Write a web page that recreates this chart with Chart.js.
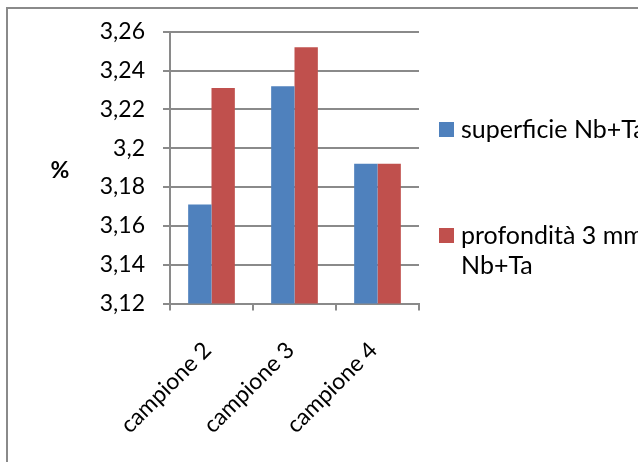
<!DOCTYPE html>
<html>
<head>
<meta charset="utf-8">
<script src="https://cdn.jsdelivr.net/npm/chart.js@4/dist/chart.umd.min.js"></script>
<style>
  html, body { margin: 0; padding: 0; background: #fff; overflow: hidden; }
  #wrap { width: 638px; height: 462px; position: relative; }
</style>
</head>
<body>
<div id="wrap"><canvas id="c" width="638" height="462"></canvas></div>
<script>
// Nb+Ta content per sample: surface vs. 3 mm depth
const categories = ['campione 2', 'campione 3', 'campione 4'];
const superficie = [3.171, 3.232, 3.192];
const profondita = [3.231, 3.252, 3.192];
const seriesNames = [['superficie Nb+Ta'], ['profondità 3 mm', 'Nb+Ta']];
const seriesColors = ['#4f81bd', '#c0504d'];
const yTickValues = [3.12, 3.14, 3.16, 3.18, 3.2, 3.22, 3.24, 3.26];
const yTickLabels = ['3,12', '3,14', '3,16', '3,18', '3,2', '3,22', '3,24', '3,26'];
const axisTitle = '%';

const FONT_FAMILY = 'Lato, "Open Sans", sans-serif';
const FONT_SIZE = 23;
const LEGEND_FONT_SIZE = 25;
const gridColor = '#8a8a8a';

// white background plus the outer frame of the chart object
const framePlugin = {
  id: 'frame',
  beforeDraw(chart) {
    const ctx = chart.ctx;
    ctx.save();
    ctx.fillStyle = '#fff';
    ctx.fillRect(0, 0, chart.width, chart.height);
    ctx.strokeStyle = '#8a8a8a';
    ctx.lineWidth = 2;
    ctx.strokeRect(7, 8, chart.width + 40, chart.height + 40);
    ctx.restore();
  }
};

// horizontal "%" axis title left of the value labels
const axisTitlePlugin = {
  id: 'axisTitle',
  afterDraw(chart) {
    const ctx = chart.ctx;
    const area = chart.chartArea;
    ctx.save();
    ctx.font = 'bold ' + FONT_SIZE + 'px ' + FONT_FAMILY;
    ctx.fillStyle = '#000';
    ctx.textAlign = 'center';
    ctx.textBaseline = 'middle';
    ctx.fillText(axisTitle, 60, (area.top + area.bottom) / 2 + 3);
    ctx.restore();
  }
};

// legend to the right of the plot, one block per series
const sideLegendPlugin = {
  id: 'sideLegend',
  afterDraw(chart) {
    const ctx = chart.ctx;
    const area = chart.chartArea;
    const box = 15;
    const boxX = area.right + 20;
    const textX = boxX + box + 7;
    const lineH = 30;
    const tops = [122, 228];
    ctx.save();
    ctx.font = LEGEND_FONT_SIZE + 'px ' + FONT_FAMILY;
    ctx.textAlign = 'left';
    ctx.textBaseline = 'middle';
    chart.data.datasets.forEach((ds, i) => {
      ctx.fillStyle = ds.backgroundColor;
      ctx.fillRect(boxX, tops[i], box, box);
      ctx.fillStyle = '#000';
      seriesNames[i].forEach((line, j) => {
        ctx.fillText(line, textX, tops[i] + box / 2 + j * lineH);
      });
    });
    ctx.restore();
  }
};

function tickLabel(value) {
  const i = yTickValues.findIndex(v => Math.abs(v - value) < 1e-6);
  return i >= 0 ? yTickLabels[i] : '';
}

function draw() {
  new Chart(document.getElementById('c'), {
    type: 'bar',
    data: {
      labels: categories,
      datasets: [
        { label: seriesNames[0].join(' '), data: superficie, backgroundColor: seriesColors[0] },
        { label: seriesNames[1].join(' '), data: profondita, backgroundColor: seriesColors[1] }
      ]
    },
    options: {
      responsive: false,
      animation: false,
      devicePixelRatio: 1,
      categoryPercentage: 0.5625,
      barPercentage: 1,
      layout: { padding: { top: 26.7, right: 219, bottom: 0, left: 0 } },
      plugins: {
        legend: { display: false },
        tooltip: { enabled: false },
        title: { display: false }
      },
      scales: {
        x: {
          offset: true,
          grid: { offset: true, drawOnChartArea: false, drawTicks: true, tickLength: 7, color: gridColor, lineWidth: 2 },
          border: { display: true, color: gridColor, width: 2 },
          ticks: {
            autoSkip: false, minRotation: 45, maxRotation: 45, padding: 26, labelOffset: -4,
            color: '#000', font: { family: FONT_FAMILY, size: FONT_SIZE }
          },
          afterFit(scale) { scale.height = 462 - 303.5; }
        },
        y: {
          min: 3.12,
          max: 3.26,
          grid: { color: gridColor, lineWidth: 2, tickLength: 7 },
          border: { display: true, color: gridColor, width: 2 },
          ticks: {
            stepSize: 0.02, padding: 18, callback: tickLabel,
            color: '#000', font: { family: FONT_FAMILY, size: FONT_SIZE }
          },
          afterFit(scale) { scale.width = 170; }
        }
      }
    },
    plugins: [framePlugin, axisTitlePlugin, sideLegendPlugin]
  });
}

if (document.fonts && document.fonts.load) {
  Promise.all([
    document.fonts.load(FONT_SIZE + 'px Lato'),
    document.fonts.load('bold ' + FONT_SIZE + 'px Lato')
  ]).then(draw, draw);
} else {
  draw();
}
</script>
</body>
</html>
